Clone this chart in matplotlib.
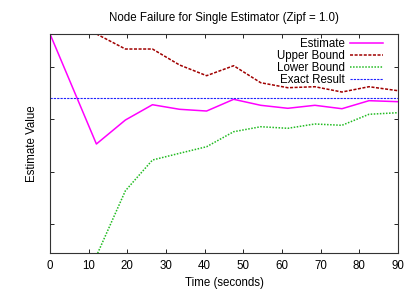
import matplotlib
matplotlib.use("Agg")
import matplotlib.pyplot as plt

plt.rcParams['font.family'] = ['Liberation Sans', 'DejaVu Sans']

time_est = [0, 12, 19.5, 26.5, 33.5, 40.5, 47.5, 54.5, 61.5, 68.5, 75.5, 82.5, 90]
estimate = [4.62, 2.524, 2.981, 3.272, 3.185, 3.152, 3.375, 3.261, 3.204, 3.261, 3.196, 3.349, 3.330]

time_bnd = [12, 19.5, 26.5, 33.5, 40.5, 47.5, 54.5, 61.5, 68.5, 75.5, 82.5, 90]
upper = [4.62, 4.333, 4.333, 4.029, 3.825, 4.015, 3.691, 3.596, 3.615, 3.514, 3.615, 3.539]
lower = [0.39, 1.634, 2.219, 2.347, 2.472, 2.758, 2.853, 2.823, 2.905, 2.880, 3.090, 3.120]

exact = 3.394

xticks = [0, 10, 20, 30, 40, 50, 60, 70, 80, 90]
yticks = [1, 2, 3, 4]

fs = 8.3
fig = plt.figure(figsize=(4.15, 2.91), dpi=100)
ax = fig.add_axes([50/415, 1-253/291, (398-50)/415, (253-34)/291])

ax.plot(time_est, estimate, color='#ff00ff', lw=1.1, label='Estimate')
ax.plot(time_bnd, upper, color='#a00000', lw=1.1, ls=(0, (2, 1)), label='Upper Bound')
ax.plot(time_bnd, lower, color='#22bb22', lw=1.1, ls=(0, (1, 1)), label='Lower Bound')
ax.axhline(exact, color='#2020ff', lw=0.8, ls=(0, (2, 1)), label='Exact Result')

ax.set_xlim(0, 90)
ax.set_ylim(0.448, 4.619)
ax.set_xticks(xticks)
ax.set_yticks(yticks)
ax.set_yticklabels([])
ax.tick_params(direction='in', length=3, width=0.6, top=True, right=True,
               labelsize=fs, pad=5)
for s in ax.spines.values():
    s.set_linewidth(0.8)
    s.set_color('#333333')

ax.set_title('Node Failure for Single Estimator (Zipf = 1.0)', fontsize=fs, pad=9.5)
ax.set_xlabel('Time (seconds)', fontsize=fs)
ax.xaxis.set_label_coords(0.5, (253 - 277) / 219)
ax.set_ylabel('Estimate Value', fontsize=fs)
ax.yaxis.set_label_coords((38 - 50) / 348, 0.5)

leg = ax.legend(loc='upper right', bbox_to_anchor=(1 - 15/348, 1 - 4/219),
                frameon=False, markerfirst=False, fontsize=fs,
                handlelength=2.85, handletextpad=0.45, labelspacing=0.0,
                borderaxespad=0, borderpad=0)

fig.savefig('out.png', dpi=100)
